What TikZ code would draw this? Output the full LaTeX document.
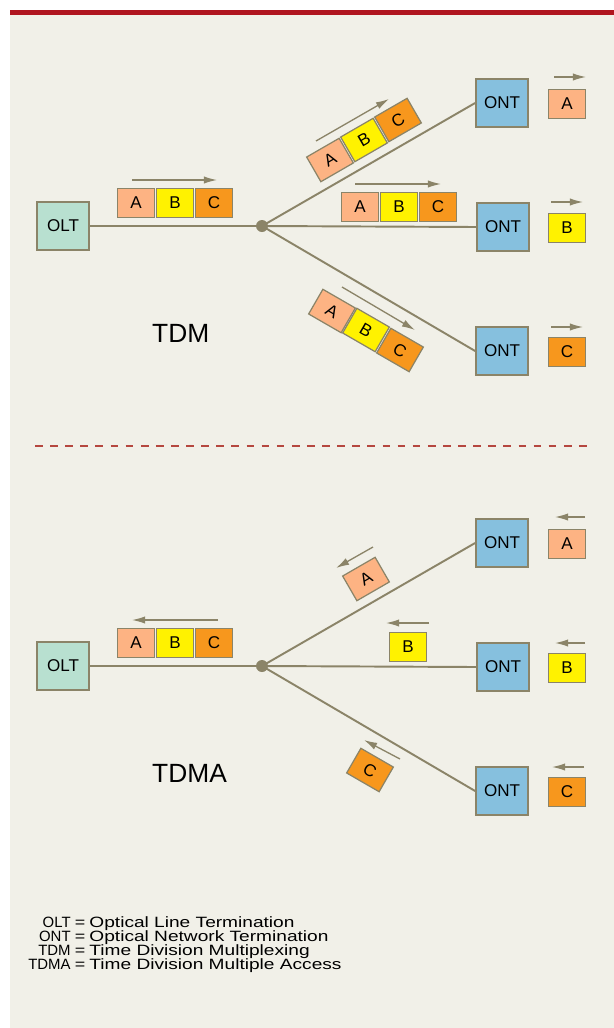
\documentclass[tikz,border=0pt]{standalone}
\usepackage{fontspec}
\setmainfont{Liberation Sans}
\usetikzlibrary{arrows.meta}
\definecolor{paper}{HTML}{F1F0E8}
\definecolor{topbar}{HTML}{B0151F}
\definecolor{wirec}{HTML}{8B8468}
\definecolor{oltfill}{HTML}{B8E0D0}
\definecolor{ontfill}{HTML}{86C0DE}
\definecolor{cellA}{HTML}{FDB383}
\definecolor{cellB}{HTML}{FFF200}
\definecolor{cellC}{HTML}{F7971D}
\definecolor{sepline}{HTML}{B5473F}
\begin{document}
\begin{tikzpicture}[x=0.02cm,y=-0.02cm,
    wire/.style={draw=wirec, line width=1.1pt},
    flow/.style={draw=wirec, line width=0.75pt, -{Latex[length=7.5pt,width=4.2pt]}},
    term/.style={draw=wirec, line width=1pt, minimum width=1.04cm, minimum height=0.96cm,
                 inner sep=0pt, font=\fontsize{9.7}{11}\selectfont},
    cell/.style={draw=wirec, line width=0.7pt, minimum width=0.75cm, minimum height=0.57cm,
                 inner sep=0pt, font=\fontsize{9.7}{11}\selectfont},
    pa/.style={cell, fill=cellA},
    pb/.style={cell, fill=cellB},
    pc/.style={cell, fill=cellC},
    title/.style={anchor=west, font=\fontsize{15}{18}\selectfont},
    legtext/.style={inner sep=0pt, font=\fontsize{8.5}{10}\selectfont}]
    % page and background
    \useasboundingbox (0,0) rectangle (614,1028);
    \fill[white] (0,0) rectangle (614,1028);
    \fill[paper] (10,15) rectangle (614,1028);
    \fill[topbar] (10,10) rectangle (614,15);

    % ---- TDM (downstream) ----
    \node[term, fill=oltfill] (olt1) at (63,226) {OLT};
    \fill[wirec] (262,226) circle (6);
    \coordinate (dot1) at (262,226);
    \node[term, fill=ontfill] (ont1a) at (502,103) {ONT};
    \node[term, fill=ontfill] (ont1b) at (503,227) {ONT};
    \node[term, fill=ontfill] (ont1c) at (502,351) {ONT};
    \draw[wire] (olt1) -- (dot1);
    \draw[wire] (dot1) -- (ont1a.west);
    \draw[wire] (dot1) -- (ont1b.west);
    \draw[wire] (dot1) -- (ont1c.west);

    \node[pa] (f1a) at (136,203) {A};
    \node[pb] (f1b) at (175,203) {B};
    \node[pc] (f1c) at (214,203) {C};
    \draw[flow] (132,180) -- (217,180);

    \node[pa, rotate=30] (u1a) at (330,160) {A};
    \node[pb, rotate=30] (u1b) at (364,140) {B};
    \node[pc, rotate=30] (u1c) at (398,120) {C};
    \draw[flow] (316,141) -- (389,99);

    \node[pa] (m1a) at (360,207) {A};
    \node[pb] (m1b) at (399,207) {B};
    \node[pc] (m1c) at (438,207) {C};
    \draw[flow] (355,184) -- (441,184);

    \node[pa, rotate=-30] (l1a) at (332,311) {A};
    \node[pb, rotate=-30] (l1b) at (366,330) {B};
    \node[pc, rotate=-30] (l1c) at (400,350) {C};
    \draw[flow] (342,287) -- (415,330);

    \node[pa] (r1a) at (567,104) {A};
    \node[pb] (r1b) at (567,228) {B};
    \node[pc] (r1c) at (567,352) {C};
    \draw[flow] (554,77) -- (586,77);
    \draw[flow] (551,202) -- (583,202);
    \draw[flow] (551,327) -- (583,327);

    \node[title] (tdm) at (146,333) {TDM};

    % separator
    \draw[sepline, line width=1.3pt, dash pattern=on 4.4pt off 4.2pt] (35,446) -- (592,446);

    % ---- TDMA (upstream) ----
    \node[term, fill=oltfill] (olt2) at (63,666) {OLT};
    \fill[wirec] (262,666) circle (6);
    \coordinate (dot2) at (262,666);
    \node[term, fill=ontfill] (ont2a) at (502,543) {ONT};
    \node[term, fill=ontfill] (ont2b) at (503,667) {ONT};
    \node[term, fill=ontfill] (ont2c) at (502,791) {ONT};
    \draw[wire] (olt2) -- (dot2);
    \draw[wire] (dot2) -- (ont2a.west);
    \draw[wire] (dot2) -- (ont2b.west);
    \draw[wire] (dot2) -- (ont2c.west);

    \node[pa] (f2a) at (136,643) {A};
    \node[pb] (f2b) at (175,643) {B};
    \node[pc] (f2c) at (214,643) {C};
    \draw[flow] (218,620) -- (132,620);

    \node[pa, rotate=30] (u2a) at (366,579) {A};
    \draw[flow] (373,547) -- (336,568);
    \node[pb] (m2b) at (408,647) {B};
    \draw[flow] (429,623) -- (386,623);
    \node[pc, rotate=-30] (l2c) at (370,770) {C};
    \draw[flow] (400,759) -- (364,740);

    \node[pa] (r2a) at (567,544) {A};
    \node[pb] (r2b) at (567,668) {B};
    \node[pc] (r2c) at (567,792) {C};
    \draw[flow] (585,517) -- (555,517);
    \draw[flow] (585,643) -- (555,643);
    \draw[flow] (584,767) -- (552,767);

    \node[title] (tdma) at (146,773) {TDMA};

    % legend
    \foreach \abbr/\full [count=\i] in {OLT/Optical Line Termination,
        ONT/Optical Network Termination, TDM/Time Division Multiplexing,
        TDMA/Time Division Multiple Access} {
      \node[legtext, anchor=base east] (abbr\i) at (71,913.5+14*\i) {\abbr};
      \node[legtext, anchor=base, xscale=1.2] (eq\i) at (80,913.5+14*\i) {=};
      \node[legtext, anchor=base west, xscale=1.28] (full\i) at (89,913.5+14*\i) {\full};
    }
\end{tikzpicture}
\end{document}
